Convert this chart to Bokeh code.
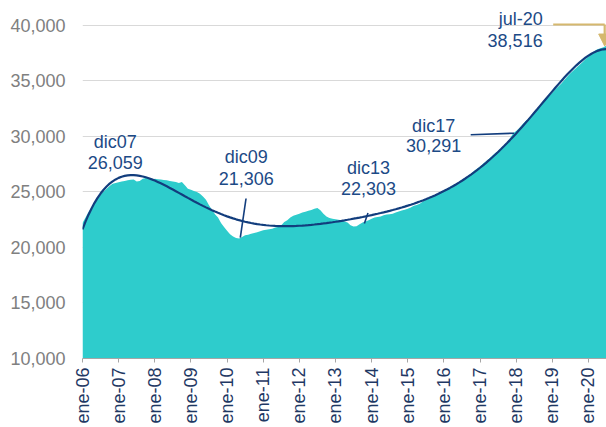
import numpy as np
from numpy.polynomial import Polynomial
from bokeh.plotting import figure
from bokeh.models import (FixedTicker, NumeralTickFormatter, Range1d, Arrow,
                          NormalHead, ColumnDataSource)
from bokeh.core.properties import value
from bokeh.embed import file_html
from bokeh.resources import INLINE

# ---- data (monthly, ene-06 .. jul-20) ----
v2006 = [22200, 22700, 23200, 23600, 24000, 24400, 24750, 25050, 25300, 25550, 25750, 25820]
v2007 = [25880, 25950, 26000, 26050, 26100, 26130, 25950, 25980, 26200, 26250, 26230, 26060]
v2008 = [26200, 26150, 26120, 26080, 26050, 26000, 25950, 25900, 25800, 25900, 25600, 25300]
v2009 = [25200, 25100, 25000, 24850, 24600, 24300, 23800, 23400, 23000, 22700, 22200, 21850]
v2010 = [21500, 21200, 21000, 20850, 20800, 20950, 21100, 21150, 21230, 21300, 21380, 21470]
v2011 = [21550, 21600, 21650, 21700, 21800, 21850, 22000, 22300, 22450, 22700, 22850, 22950]
v2012 = [23050, 23150, 23230, 23300, 23380, 23480, 23550, 23350, 23050, 22800, 22650, 22580]
v2013 = [22550, 22500, 22450, 22350, 22250, 22000, 21900, 21920, 22100, 22250, 22350, 22450]
v2014 = [22600, 22700, 22750, 22800, 22900, 22980, 23000, 23050, 23150, 23250, 23330, 23400]
v2015 = [23500, 23600, 23750, 23820, 23950, 24150, 24300, 24400, 24500, 24700, 24850, 25000]
v2016 = [25150, 25300, 25450, 25600, 25750, 25900, 26080, 26250, 26450, 26650, 26900, 27100]
v2017 = [27300, 27550, 27780, 28000, 28250, 28480, 28700, 28950, 29200, 29450, 29850, 30290]
v2018 = [30500, 30750, 31050, 31350, 31600, 31900, 32200, 32500, 32800, 33100, 33400, 33700]
v2019 = [33950, 34250, 34500, 34780, 35100, 35400, 35700, 35950, 36200, 36450, 36700, 36950]
v2020 = [37200, 37450, 37700, 37850, 37950, 38050, 38200]

years = ["06", "07", "08", "09", "10", "11", "12", "13", "14", "15", "16", "17", "18", "19", "20"]
tick_labels = ["ene-" + y for y in years]

# annotations: label lines, position (month index, value)
ann_text = ["dic07", "26,059", "dic09", "21,306", "dic13", "22,303", "dic17", "30,291"]
ann_x = [10.9, 10.9, 54.4, 54.4, 95.0, 95.0, 116.6, 116.6]
ann_y = [29490, 27690, 28140, 26260, 27135, 25290, 30990, 29145]
jul_text = ["jul-20", "38,516"]
jul_x = [152.8, 152.8]
jul_y = [40600, 38650]
lead_x0 = [54.3, 94.8, 128.9]
lead_y0 = [24414, 23110, 30154]
lead_x1 = [52.4, 93.6, 143.3]
lead_y1 = [20900, 22160, 30298]

vals = np.array(v2006 + v2007 + v2008 + v2009 + v2010 + v2011 + v2012 + v2013 +
                v2014 + v2015 + v2016 + v2017 + v2018 + v2019 + v2020, dtype=float)
idx = np.arange(len(vals), dtype=float)
trend = Polynomial.fit(idx, vals, 6)(idx)

AREA = "#2ECCCC"
NAVY = "#123D7D"
TXT = "#1C4A86"
GOLD = "#D5B86E"
FONT = "Liberation Sans"

p = figure(width=606, height=427, output_backend="svg", toolbar_location=None,
           x_range=Range1d(0, len(vals) - 1), y_range=Range1d(10000, 42252),
           min_border_left=82, min_border_right=0, min_border_top=0, min_border_bottom=69)
p.outline_line_color = None
p.background_fill_color = "white"
p.border_fill_color = "white"

src = ColumnDataSource(dict(x=idx, y=vals, t=trend))
p.varea(x="x", y1=10000, y2="y", source=src, fill_color=AREA)
p.line(x="x", y="t", source=src, line_color=NAVY, line_width=2.2)

p.segment(lead_x0, lead_y0, lead_x1, lead_y1, line_color=NAVY, line_width=1.6)

p.text(ann_x, ann_y, text=ann_text, text_font=value(FONT), text_font_size="18px",
       text_color=TXT, text_align="center", text_baseline="middle")
p.text(jul_x, jul_y, text=jul_text, text_font=value(FONT), text_font_size="18px",
       text_color=TXT, text_align="right", text_baseline="middle")

p.line([156.3, 173.4], [40090, 40090], line_color=GOLD, line_width=2.2)
p.add_layout(Arrow(end=NormalHead(size=12, fill_color=GOLD, line_color=GOLD),
                   x_start=173.4, y_start=40090, x_end=173.4, y_end=38150,
                   line_color=GOLD, line_width=2.2))

# y axis
p.yaxis.ticker = FixedTicker(ticks=[10000, 15000, 20000, 25000, 30000, 35000, 40000])
p.yaxis.formatter = NumeralTickFormatter(format="0,0")
p.yaxis.axis_line_color = None
p.yaxis.major_tick_line_color = None
p.yaxis.minor_tick_line_color = None
p.yaxis.major_tick_out = 0
p.yaxis.major_label_standoff = 17
p.yaxis.major_label_text_font = FONT
p.yaxis.major_label_text_font_size = "18px"
p.yaxis.major_label_text_color = "#808080"
p.ygrid.grid_line_color = "#D9D9D9"
p.ygrid.grid_line_width = 1

# x axis
xt = [12 * i for i in range(len(tick_labels))]
p.xaxis.ticker = FixedTicker(ticks=xt)
p.xaxis.major_label_overrides = {t: lab for t, lab in zip(xt, tick_labels)}
p.xaxis.major_label_orientation = np.pi / 2
p.xaxis.axis_line_color = "#A6A6A6"
p.xaxis.major_tick_line_color = "#A6A6A6"
p.xaxis.minor_tick_line_color = None
p.xaxis.major_tick_out = 4
p.xaxis.major_tick_in = 0
p.xaxis.major_label_standoff = 5
p.xaxis.major_label_text_font = FONT
p.xaxis.major_label_text_font_size = "18px"
p.xaxis.major_label_text_color = "#1F3864"
p.xgrid.grid_line_color = None

open("out.html", "w").write(file_html(p, INLINE))
